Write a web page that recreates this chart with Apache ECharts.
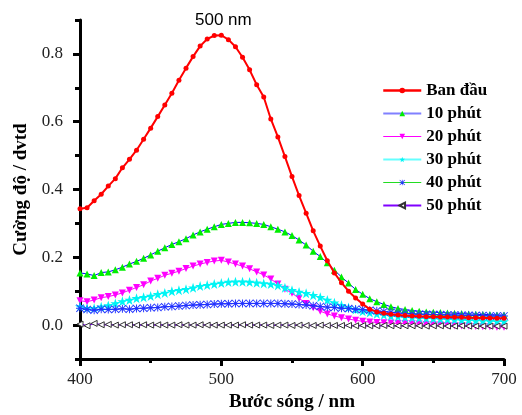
<!DOCTYPE html>
<html>
<head>
<meta charset="utf-8">
<script src="https://cdn.jsdelivr.net/npm/echarts@6/dist/echarts.min.js"></script>
<style>html,body{margin:0;padding:0;background:#fff;}#c{width:522px;height:415px;}</style>
</head>
<body>
<div id="c"></div>
<script>
// wavelengths 400..700 nm, step 5
const wavelengths = [400,405,410,415,420,425,430,435,440,445,450,455,460,465,470,475,480,485,490,495,500,505,510,515,520,525,530,535,540,545,550,555,560,565,570,575,580,585,590,595,600,605,610,615,620,625,630,635,640,645,650,655,660,665,670,675,680,685,690,695,700];
const seriesNames = ['Ban đầu','10 phút','20 phút','30 phút','40 phút','50 phút'];
const banDau = [0.343,0.346,0.367,0.386,0.410,0.432,0.464,0.489,0.516,0.548,0.581,0.615,0.649,0.684,0.722,0.758,0.792,0.823,0.844,0.854,0.855,0.842,0.821,0.790,0.753,0.709,0.673,0.608,0.555,0.497,0.438,0.382,0.330,0.278,0.233,0.190,0.154,0.125,0.100,0.080,0.062,0.047,0.039,0.035,0.032,0.030,0.028,0.027,0.026,0.025,0.025,0.024,0.024,0.023,0.023,0.022,0.022,0.021,0.021,0.020,0.020];
const phut10 = [0.154,0.151,0.146,0.155,0.157,0.163,0.171,0.180,0.188,0.197,0.207,0.218,0.228,0.238,0.246,0.255,0.266,0.275,0.283,0.290,0.297,0.300,0.303,0.303,0.302,0.300,0.297,0.290,0.283,0.275,0.264,0.251,0.236,0.218,0.202,0.184,0.162,0.142,0.124,0.105,0.091,0.078,0.069,0.061,0.054,0.049,0.046,0.043,0.041,0.039,0.038,0.037,0.036,0.035,0.034,0.033,0.032,0.031,0.031,0.030,0.030];
const phut20 = [0.072,0.069,0.074,0.081,0.084,0.089,0.095,0.103,0.111,0.119,0.130,0.138,0.147,0.153,0.159,0.167,0.174,0.180,0.185,0.189,0.191,0.186,0.180,0.174,0.166,0.157,0.148,0.136,0.121,0.106,0.094,0.079,0.064,0.051,0.041,0.033,0.027,0.022,0.018,0.014,0.011,0.009,0.008,0.007,0.006,0.005,0.005,0.004,0.003,0.002,0.001,0.000,-0.001,-0.002,-0.003,-0.003,-0.004,-0.005,-0.005,-0.006,-0.006];
const phut30 = [0.055,0.050,0.050,0.054,0.058,0.064,0.070,0.074,0.079,0.082,0.086,0.091,0.095,0.100,0.103,0.106,0.110,0.115,0.118,0.121,0.124,0.127,0.128,0.128,0.127,0.125,0.123,0.121,0.117,0.110,0.103,0.098,0.094,0.088,0.082,0.074,0.066,0.059,0.052,0.046,0.041,0.037,0.033,0.030,0.027,0.025,0.023,0.022,0.021,0.020,0.019,0.018,0.017,0.016,0.015,0.014,0.013,0.013,0.012,0.011,0.011];
const phut40 = [0.050,0.046,0.044,0.047,0.046,0.047,0.048,0.047,0.049,0.050,0.051,0.052,0.054,0.055,0.056,0.058,0.059,0.060,0.061,0.062,0.063,0.063,0.064,0.064,0.064,0.064,0.064,0.064,0.064,0.063,0.062,0.061,0.059,0.057,0.055,0.053,0.052,0.050,0.049,0.047,0.046,0.044,0.042,0.040,0.038,0.036,0.034,0.033,0.032,0.032,0.031,0.031,0.030,0.030,0.029,0.029,0.028,0.028,0.027,0.027,0.027];
const phut50 = [0.003,-0.002,0.005,0.001,0.002,0.000,0.001,0.001,0.000,0.001,0.000,0.001,0.000,0.000,0.001,0.000,0.000,0.001,0.000,0.000,0.000,0.000,0.000,0.001,0.000,0.000,0.000,-0.001,0.000,0.000,-0.001,0.000,-0.001,-0.001,0.000,-0.001,-0.001,-0.001,-0.001,-0.002,-0.001,-0.002,-0.002,-0.001,-0.002,-0.002,-0.002,-0.002,-0.002,-0.003,-0.002,-0.002,-0.003,-0.003,-0.002,-0.003,-0.003,-0.003,-0.003,-0.003,-0.003];
const yMajorTicks = [0, 0.2, 0.4, 0.6, 0.8];
const yMinorTicks = [-0.1, 0.1, 0.3, 0.5, 0.7, 0.9];
const peakLabel = '500 nm';
const xTitle = 'Bước sóng / nm';
const yTitle = 'Cường độ / dvtd';

const pair = arr => wavelengths.map((w, i) => [w, arr[i]]);
const serif = '"Liberation Serif", "DejaVu Serif", serif';
const STAR = 'path://M5,0 L6.2,3.6 L10,3.6 L6.9,5.9 L8.1,9.5 L5,7.3 L1.9,9.5 L3.1,5.9 L0,3.6 L3.8,3.6 Z';
const ASTER = 'path://M4.4,0 L5.6,0 L5.6,10 L4.4,10 Z M0,4.4 L10,4.4 L10,5.6 L0,5.6 Z M0.8,0 L10,9.2 L9.2,10 L0,0.8 Z M9.2,0 L10,0.8 L0.8,10 L0,9.2 Z';

const chart = echarts.init(document.getElementById('c'), null, {renderer: 'canvas'});
const axisBlack = {color: '#000', width: 3};
chart.setOption({
  animation: false,
  backgroundColor: '#fff',
  grid: {left: 80, right: 18, top: 20, bottom: 56, outerBoundsMode: 'none', containLabel: false},
  xAxis: {
    type: 'value', min: 400, max: 700, interval: 100,
    name: xTitle, nameLocation: 'middle', nameGap: 34,
    nameTextStyle: {fontFamily: serif, fontWeight: 'bold', fontSize: 19, color: '#000'},
    axisLine: {show: true, onZero: false, lineStyle: axisBlack},
    axisTick: {show: true, length: 7, lineStyle: axisBlack},
    minorTick: {show: true, splitNumber: 2, length: 4, lineStyle: axisBlack},
    splitLine: {show: false}, minorSplitLine: {show: false},
    axisLabel: {fontFamily: serif, fontSize: 17, color: '#222', margin: 12}
  },
  yAxis: [{
    type: 'value', min: -0.1, max: 0.9,
    name: yTitle, nameLocation: 'middle', nameGap: 37, nameRotate: 90,
    nameTextStyle: {fontFamily: serif, fontWeight: 'bold', fontSize: 19, color: '#000'},
    axisLine: {show: true, onZero: false, lineStyle: axisBlack},
    axisTick: {show: true, length: 7, lineStyle: axisBlack, customValues: yMajorTicks},
    axisLabel: {fontFamily: serif, fontSize: 17, color: '#222', margin: 17, customValues: yMajorTicks,
      formatter: v => v.toFixed(1)},
    splitLine: {show: false}
  }, {
    type: 'value', min: -0.1, max: 0.9, position: 'left',
    axisLine: {show: false},
    axisTick: {show: true, length: 5, lineStyle: axisBlack, customValues: yMinorTicks},
    axisLabel: {show: false},
    splitLine: {show: false}
  }],
  legend: {
    orient: 'vertical', left: 382, top: 82, padding: 0,
    itemWidth: 38, itemHeight: 7, itemGap: 6,
    textStyle: {fontFamily: serif, fontWeight: 'bold', fontSize: 17, color: '#000'},
    data: [
      {name: seriesNames[0], lineStyle: {color: '#ff0000', width: 2.5}},
      {name: seriesNames[1], lineStyle: {color: '#8080ff', width: 2}},
      {name: seriesNames[2], lineStyle: {color: '#ff00ff', width: 1}},
      {name: seriesNames[3], lineStyle: {color: '#66ffff', width: 2}},
      {name: seriesNames[4], lineStyle: {color: '#22dd22', width: 1}},
      {name: seriesNames[5], lineStyle: {color: '#8000ff', width: 2}}
    ]
  },
  graphic: [{
    type: 'text', left: 195, top: 12,
    style: {text: peakLabel, fontFamily: '"Liberation Sans", Arial, sans-serif', fontSize: 17, fill: '#000'}
  }],
  series: [
    {name: seriesNames[0], type: 'line', data: pair(banDau), symbol: 'circle', symbolSize: 5,
      lineStyle: {color: '#ff0000', width: 2}, itemStyle: {color: '#ff0000'}, z: 8},
    {name: seriesNames[1], type: 'line', data: pair(phut10), symbol: 'triangle', symbolSize: 7,
      lineStyle: {color: '#0000ff', width: 1}, itemStyle: {color: '#00ee00'}, z: 3},
    {name: seriesNames[2], type: 'line', data: pair(phut20), symbol: 'triangle', symbolRotate: 180, symbolSize: 7,
      lineStyle: {color: '#ff00ff', width: 1}, itemStyle: {color: '#ff00ff'}, z: 4},
    {name: seriesNames[3], type: 'line', data: pair(phut30), symbol: STAR, symbolSize: 10,
      lineStyle: {color: '#00ffff', width: 1}, itemStyle: {color: '#00f4f4'}, z: 5},
    {name: seriesNames[4], type: 'line', data: pair(phut40), symbol: ASTER, symbolSize: 8,
      lineStyle: {color: '#0000ff', width: 1}, itemStyle: {color: '#2233ff'}, z: 6},
    {name: seriesNames[5], type: 'line', data: pair(phut50), symbol: 'triangle', symbolRotate: 90, symbolSize: 6,
      lineStyle: {color: '#8000ff', width: 1.5}, itemStyle: {color: '#ffffff', borderColor: '#333', borderWidth: 1}, z: 7}
  ]
});
</script>
</body>
</html>
